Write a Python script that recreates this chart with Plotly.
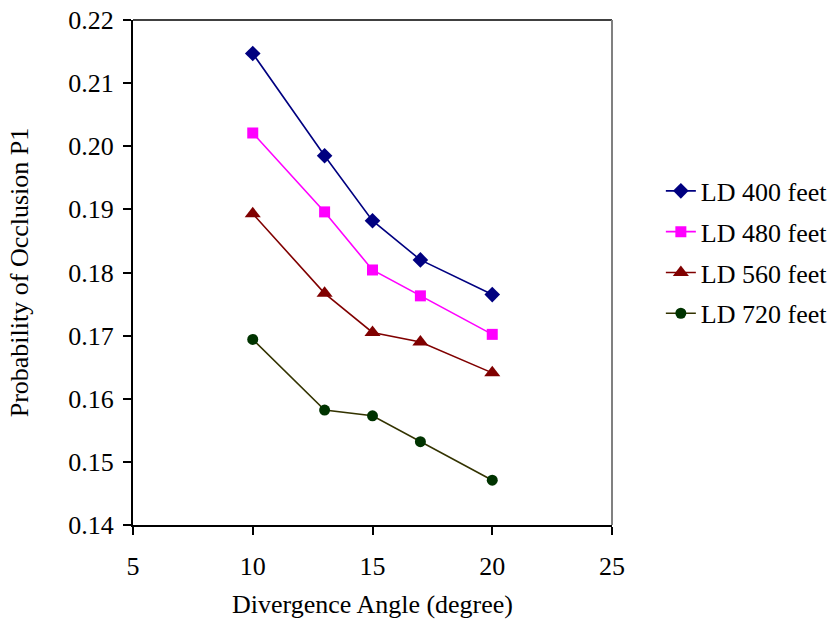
import plotly.graph_objects as go

angles = [10, 13, 15, 17, 20]
ld400 = [0.2147, 0.1985, 0.1882, 0.1820, 0.1765]
ld480 = [0.2021, 0.1896, 0.1804, 0.1763, 0.1702]
ld560 = [0.1893, 0.1767, 0.1705, 0.1690, 0.1641]
ld720 = [0.1694, 0.1582, 0.1573, 0.1532, 0.1471]
names = ["LD 400 feet", "LD 480 feet", "LD 560 feet", "LD 720 feet"]

series = [ld400, ld480, ld560, ld720]
line_colors = ["#000080", "#FF00FF", "#800000", "#333300"]
marker_colors = ["#000080", "#FF00FF", "#800000", "#003300"]
symbols = ["diamond", "square", "triangle-up", "circle"]
sizes = [12, 11, 14, 11]

fig = go.Figure()
for i, (vals, nm) in enumerate(zip(series, names)):
    fig.add_trace(go.Scatter(
        x=angles, y=vals, name=nm, mode="lines+markers",
        line=dict(color=line_colors[i], width=1.6),
        marker=dict(symbol=symbols[i], size=sizes[i], color=marker_colors[i]),
        legendgroup=nm,
    ))

font = "Liberation Serif, Times New Roman, serif"
fs = 26
fig.update_layout(
    width=830, height=623,
    margin=dict(l=133, r=218, t=20, b=98, autoexpand=False),
    paper_bgcolor="white", plot_bgcolor="white",
    font=dict(family=font, size=fs, color="black"),
    showlegend=True,
    legend=dict(x=1.102, y=0.708, xanchor="left", yanchor="top",
                traceorder="grouped", tracegroupgap=4,
                font=dict(family=font, size=fs, color="black"),
                bgcolor="rgba(0,0,0,0)"),
    xaxis=dict(range=[5, 25], dtick=5, tick0=5, showgrid=False, zeroline=False,
               automargin=False,
               showline=True, linecolor="black", linewidth=2,
               ticks="outside", ticklen=8, tickwidth=2, tickcolor="black",
               ticklabelstandoff=9,
               tickfont=dict(family=font, size=fs),
               title=dict(text="Divergence Angle (degree)", standoff=15,
                          font=dict(family=font, size=fs))),
    yaxis=dict(range=[0.14, 0.22], dtick=0.01, tick0=0.14, tickformat=".2f",
               showgrid=False, zeroline=False, automargin=False,
               showline=True, linecolor="black", linewidth=2,
               ticks="outside", ticklen=8, tickwidth=2, tickcolor="black",
               ticklabelstandoff=4,
               tickfont=dict(family=font, size=fs),
               title=dict(text="Probability of Occlusion P1", standoff=32,
                          font=dict(family=font, size=fs))),
)
fig.add_shape(type="line", xref="paper", yref="paper", x0=0, x1=1, y0=1, y1=1,
              line=dict(color="black", width=1.5))
fig.add_shape(type="line", xref="paper", yref="paper", x0=1, x1=1, y0=0, y1=1,
              line=dict(color="#808080", width=2))

fig.write_html("out.html")
